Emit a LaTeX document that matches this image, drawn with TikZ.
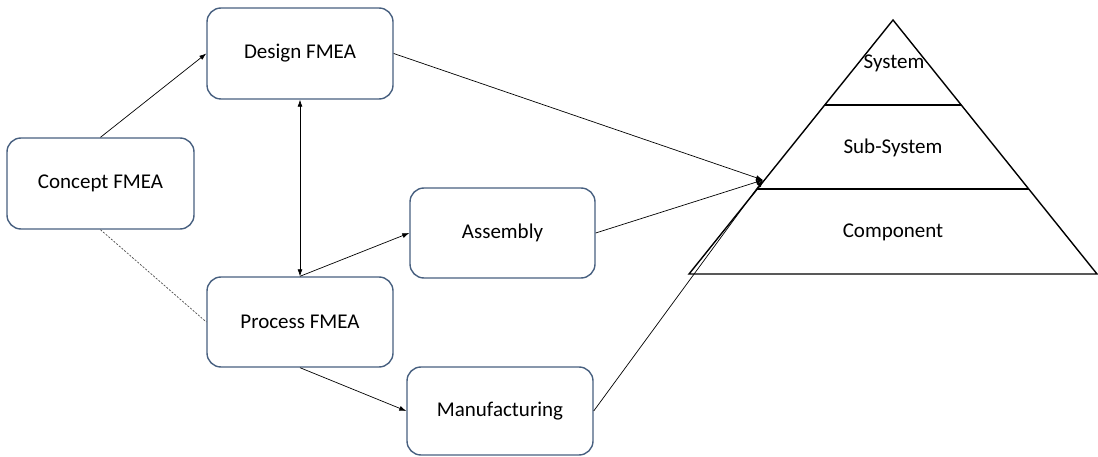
\documentclass[tikz,border=0pt]{standalone}
\usepackage{fontspec}
\setmainfont{Carlito}
\usetikzlibrary{arrows.meta}
\definecolor{boxedge}{RGB}{72,96,128}
\begin{document}
\begin{tikzpicture}[x=1pt,y=-1pt,
  fmeabox/.style={draw=boxedge, line width=1.4pt, rounded corners=14pt, fill=white,
    minimum width=#1, inner sep=0pt, font=\fontsize{21}{24}\selectfont},
  link/.style={draw=black, line width=0.7pt, -{Latex[length=7pt,width=5pt]}},
  twoway/.style={draw=black, line width=0.7pt, {Latex[length=7pt,width=5pt]}-{Latex[length=7pt,width=5pt]}},
  dotlink/.style={draw=black!70, line width=0.7pt, dash pattern=on 2pt off 1.5pt},
  tier/.style={draw=black, line width=1.4pt},
  tierlabel/.style={font=\fontsize{21}{24}\selectfont, inner sep=0pt}]
  \useasboundingbox (0,0) rectangle (1098,457);

  % FMEA boxes
  \node[fmeabox=187pt, minimum height=91pt] (concept) at (100.5,183.5) {Concept FMEA};
  \node[fmeabox=186pt, minimum height=91pt] (design)  at (300,53.5)   {Design FMEA};
  \node[fmeabox=186pt, minimum height=90pt] (process) at (300,322)    {Process FMEA};
  \node[fmeabox=185pt, minimum height=90pt] (assembly) at (502.5,233) {Assembly};
  \node[fmeabox=186pt, minimum height=88pt] (manuf)   at (500,411)    {Manufacturing};

  % Pyramid of levels
  \coordinate (apex) at (893,20);
  \coordinate (baseL) at (689,274);
  \coordinate (baseR) at (1097,274);
  \coordinate (t1L) at (825,105);
  \coordinate (t1R) at (961,105);
  \coordinate (t2L) at (757,189);
  \coordinate (t2R) at (1029,189);
  \draw[tier, line join=miter] (apex) -- (baseR) -- (baseL) -- cycle;
  \draw[tier] (t1L) -- (t1R);
  \draw[tier] (t2L) -- (t2R);
  \node[tierlabel] (system) at (894,63) {System};
  \node[tierlabel] (subsys) at (893,148) {Sub-System};
  \node[tierlabel] (component) at (893,232) {Component};
  \coordinate (target) at (763,180);

  % Connectors
  \draw[link] (concept.north) -- (design.west);
  \draw[twoway] (design.south) -- (process.north);
  \draw[link] (process.north) -- (assembly.west);
  \draw[link] (process.south) -- (manuf.west);
  \draw[dotlink] (concept.south) -- (process.west);
  \draw[link] (design.east) -- (target);
  \draw[link] (assembly.east) -- (target);
  \draw[link] (manuf.east) -- (target);
\end{tikzpicture}
\end{document}
